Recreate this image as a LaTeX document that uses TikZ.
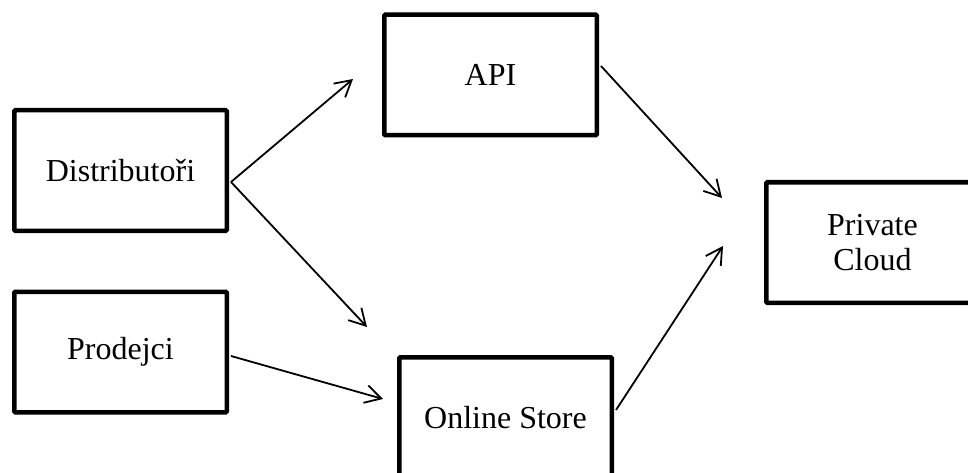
\documentclass[tikz,border=0pt]{standalone}
\usepackage{fontspec}
\setmainfont{Liberation Serif}
\usetikzlibrary{arrows.meta,calc}
\begin{document}
\begin{tikzpicture}[x=1pt,y=-1pt,
  box/.style={draw=black, line width=4.5pt, minimum width=212.5pt, minimum height=120.5pt,
    inner sep=0pt, align=center, font=\fontsize{32}{35}\selectfont, rounded corners=1pt},
  conn/.style={line width=1.8pt, -{Straight Barb[length=16pt,width=18pt,line width=1.8pt]}}]
\useasboundingbox (0,0) rectangle (968,473);
\clip (0,0) rectangle (968,473);
\fill[white] (0,0) rectangle (968,473);
\node[box] (dist) at (120.5,170.5) {Distributoři};
\node[box] (prod) at (120.5,352) {Prodejci};
\node[box] (api) at (490.5,75) {API};
\node[box] (store) at (505.5,417.5) {Online Store};
\node[box] (cloud) at (872.5,242.5) {Private\\Cloud};
\coordinate (t1) at (353,79);
\coordinate (t2) at (367,327);
\coordinate (t3) at (383,399);
\coordinate (t4) at (722,198);
\coordinate (t5) at (723,246);
\draw[conn] ($(dist.east)+(2,11.5)$) -- (t1);
\draw[conn] ($(dist.east)+(2,11.5)$) -- (t2);
\draw[conn] ($(prod.east)+(2,4)$) -- (t3);
\draw[conn] ($(api.east)+(2,-9)$) -- (t4);
\draw[conn] ($(store.east)+(2,-7.5)$) -- (t5);
\end{tikzpicture}
\end{document}
